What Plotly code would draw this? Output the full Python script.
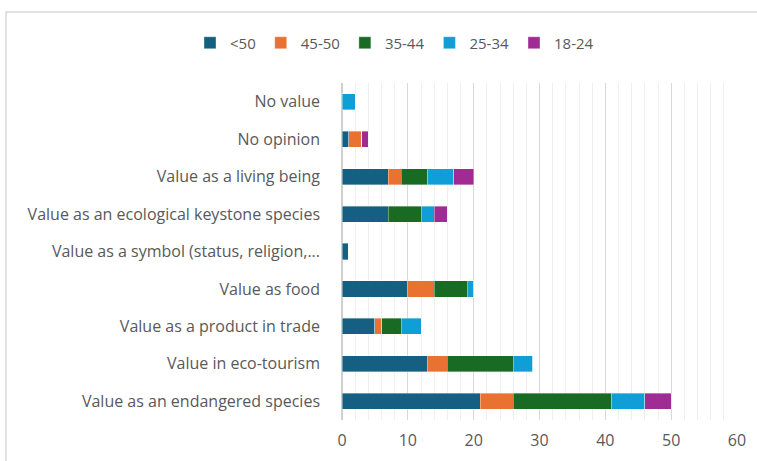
import plotly.graph_objects as go

categories = [
    "Value as an endangered species",
    "Value in eco-tourism",
    "Value as a product in trade",
    "Value as food",
    "Value as a symbol (status, religion,...",
    "Value as an ecological keystone species",
    "Value as a living being",
    "No opinion",
    "No value",
]
series_names = ["<50", "45-50", "35-44", "25-34", "18-24"]
v_lt50 = [21, 13, 5, 10, 1, 7, 7, 1, 0]
v_45_50 = [5, 3, 1, 4, 0, 0, 2, 2, 0]
v_35_44 = [15, 10, 3, 5, 0, 5, 4, 0, 0]
v_25_34 = [5, 3, 3, 1, 0, 2, 4, 0, 2]
v_18_24 = [4, 0, 0, 0, 0, 2, 3, 1, 0]
series_values = [v_lt50, v_45_50, v_35_44, v_25_34, v_18_24]
colors = ["#156082", "#E97132", "#196B24", "#0F9ED5", "#A02B93"]
x_ticks = [0, 10, 20, 30, 40, 50, 60]

W, H = 757, 461
L, R, T, B = 342, 20, 83, 41
pw, ph = W - L - R, H - T - B

fig = go.Figure()
for name, vals, c in zip(series_names, series_values, colors):
    fig.add_trace(go.Bar(
        y=categories, x=vals, name=name, orientation="h",
        marker=dict(color=c, line=dict(color="rgba(255,255,255,0.6)", width=0.6)),
    ))

font_family = "'Open Sans', Arial, sans-serif"
fig.update_layout(
    width=W, height=H,
    margin=dict(l=L, r=R, t=T, b=B, autoexpand=False),
    barmode="stack",
    bargap=0.57,
    plot_bgcolor="white",
    paper_bgcolor="white",
    font=dict(family=font_family, size=15, color="#595959"),
    legend=dict(
        orientation="h", x=(190 - L) / pw, xanchor="left",
        y=1 + (83 - 43) / ph, yanchor="middle",
        font=dict(size=15, color="#595959"),
        itemwidth=30, traceorder="normal",
    ),
    showlegend=True,
)
fig.update_xaxes(
    range=[0, 60], tickvals=x_ticks, ticktext=[str(t) for t in x_ticks],
    showgrid=True, gridcolor="#d9d9d9", gridwidth=1,
    minor=dict(dtick=2, showgrid=True, gridcolor="#efefef", gridwidth=1),
    zeroline=True, zerolinecolor="#d0d0d0", zerolinewidth=1.5,
    showline=False, ticks="", tickfont=dict(size=16, color="#595959"),
    ticklabelstandoff=9,
)
fig.update_yaxes(
    categoryorder="array", categoryarray=categories,
    showgrid=False, ticks="", showline=False,
    tickfont=dict(size=16, color="#595959"),
    ticklabelstandoff=21,
)
fig.add_shape(
    type="rect", xref="paper", yref="paper",
    x0=(6 - L) / pw, x1=(W + 10 - L) / pw,
    y0=-(B + 10) / ph, y1=1 + (T - 12) / ph,
    line=dict(color="#d9d9d9", width=1.5), fillcolor="rgba(0,0,0,0)", layer="below",
)
fig.write_html("out.html", config={"displayModeBar": False},
               post_script="document.body.style.margin='0';")
